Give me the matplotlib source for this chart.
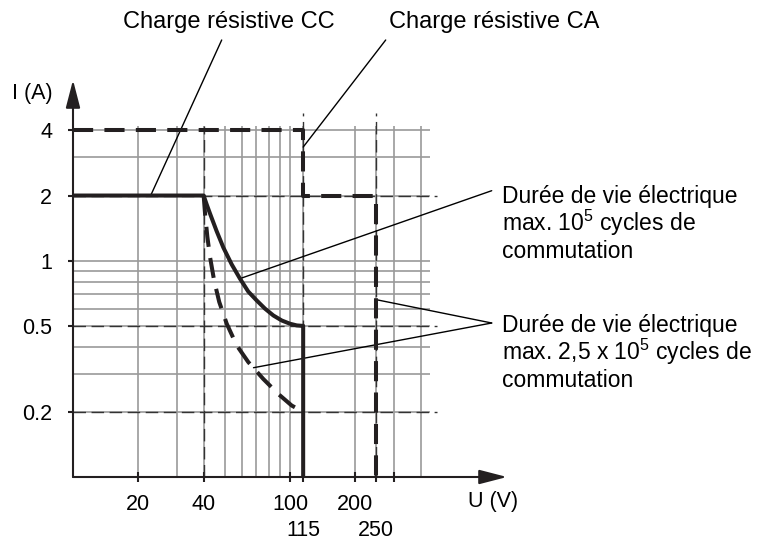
import matplotlib.pyplot as plt

plt.rcParams['font.family'] = ['Liberation Sans', 'DejaVu Sans']
plt.rcParams['mathtext.fontset'] = 'custom'
plt.rcParams['mathtext.rm'] = 'Liberation Sans'

cc_u = [10, 40, 41.3, 42.8, 45.9, 49.3, 53.9, 58.8, 64.2, 70.2, 76.7, 83.8, 91.6, 100, 107.4, 113, 115, 115]
cc_i = [2, 2, 1.82, 1.65, 1.37, 1.15, 0.96, 0.826, 0.72, 0.655, 0.60, 0.558, 0.529, 0.511, 0.502, 0.5, 0.5, 0.1]

cc25_u = [40, 40.6, 41.6, 42.8, 44.7, 47.2, 51.1, 56.8, 64.2, 75.3, 88.3, 101.8, 111]
cc25_i = [2, 1.65, 1.29, 1.04, 0.81, 0.644, 0.511, 0.406, 0.34, 0.284, 0.242, 0.214, 0.204]

ca_u = [10, 115, 115, 250, 250]
ca_i = [4, 4, 2, 2, 0.1]

# grille
grid_u = [20, 30, 40, 50, 60, 70, 80, 90, 100, 115, 200, 250, 300, 400]
grid_i = [0.2, 0.3, 0.4, 0.5, 0.6, 0.7, 0.8, 0.9, 1, 2, 3, 4]
dash_i = [0.2, 0.5, 2]

xticks = [20, 40, 100, 115, 200, 250, 300]
xlabels = ['20', '40', '100', '', '200', '', '']
xlabels_bas = {115: '115', 250: '250'}
yticks = [0.2, 0.5, 1, 2, 4]
ylabels = ['0.2', '0.5', '1', '2', '4']

ink = '#231f20'
gris = '#9a9a9a'

W, H = 761, 544
fig = plt.figure(figsize=(W / 100, H / 100), dpi=100)
ax = fig.add_axes([73 / W, (H - 477) / H, (507 - 73) / W, (477 - 80) / H])
ax.set_xscale('log')
ax.set_yscale('log')
ax.set_xlim(10, 1000)
ax.set_ylim(0.1, 6.84)
for s in ax.spines.values():
    s.set_visible(False)

# grille grise puis traits fins tiretés
ax.vlines(grid_u, 0.1, 4.2, color=gris, lw=1.2, zorder=1)
ax.hlines(grid_i, 10, 442, color=gris, lw=1.2, zorder=1)
ax.vlines([40], 0.1, 4.2, color='#333333', lw=1, linestyles=(0, (9, 4)), zorder=2)
ax.vlines([115, 250], 0.1, 4.8, color='#333333', lw=1, linestyles=(0, (9, 4)), zorder=2)
ax.hlines(dash_i, 10, 476, color='#333333', lw=1, linestyles=(0, (9, 4)), zorder=2)

# courbes
ax.plot(cc_u, cc_i, color=ink, lw=2.9, solid_joinstyle='round', zorder=4)
ax.plot(cc25_u, cc25_i, color=ink, lw=2.9, dashes=(5, 2.8), zorder=4)
ax.plot(ca_u, ca_i, color=ink, lw=2.9, dashes=(5, 2.8), zorder=4)

# axes avec flèches
arrow = dict(arrowstyle='-|>,head_length=0.85,head_width=0.22', lw=1.5,
             color=ink, shrinkA=0, shrinkB=0, mutation_scale=20)
ax.annotate('', xy=(1, 0), xytext=(0, 0), xycoords='axes fraction', arrowprops=arrow)
ax.annotate('', xy=(0, 1), xytext=(0, 0), xycoords='axes fraction', arrowprops=arrow)

ax.minorticks_off()
ax.set_xticks(xticks)
ax.set_xticklabels(xlabels)
ax.set_yticks(yticks)
ax.set_yticklabels(ylabels)
ax.tick_params(axis='x', direction='inout', length=7, width=1.5, color=ink,
               labelsize=15.5, pad=9)
ax.tick_params(axis='y', direction='out', length=3.6, width=1.5, color=ink,
               labelsize=15.5, pad=11.5)
for u, t in xlabels_bas.items():
    ax.annotate(t, xy=(u, 0), xycoords=('data', 'axes fraction'), xytext=(0, -53),
                textcoords='offset pixels', ha='center', va='center', fontsize=15.5)

fig.text(53 / W, 1 - 93 / H, 'I (A)', ha='right', va='center', fontsize=15.5)
fig.text(468 / W, 1 - 502 / H, 'U (V)', ha='left', va='center', fontsize=15.5)

# textes et lignes de rappel
fig.text(229 / W, 1 - 28.3 / H, 'Charge résistive CC', ha='center', va='baseline', fontsize=17)
fig.text(494 / W, 1 - 28.3 / H, 'Charge résistive CA', ha='center', va='baseline', fontsize=17)

bloc1 = ['Durée de vie électrique', 'max. $\\mathregular{10^5}$ cycles de', 'commutation']
bloc2 = ['Durée de vie électrique', 'max. 2,5 x $\\mathregular{10^5}$ cycles de', 'commutation']
for lignes, y0 in [(bloc1, 203), (bloc2, 332)]:
    for k, txt in enumerate(lignes):
        fig.text(501.7 / W, 1 - (y0 + 27.5 * k) / H, txt, ha='left', va='baseline', fontsize=16.5)

leader = dict(arrowstyle='-', lw=1, color='black', shrinkA=0, shrinkB=0)
ax.annotate('', xy=(22.8, 2), xytext=(221.7, H - 40), textcoords='figure pixels', arrowprops=leader)
ax.annotate('', xy=(115, 3.35), xytext=(385.7, H - 40), textcoords='figure pixels', arrowprops=leader)
ax.annotate('', xy=(58.8, 0.826), xytext=(491.7, H - 190.7), textcoords='figure pixels', arrowprops=leader)
ax.annotate('', xy=(250, 0.66), xytext=(491.7, H - 323), textcoords='figure pixels', arrowprops=leader)
ax.annotate('', xy=(67.9, 0.32), xytext=(491.7, H - 323), textcoords='figure pixels', arrowprops=leader)

fig.savefig('out.png', dpi=100)
